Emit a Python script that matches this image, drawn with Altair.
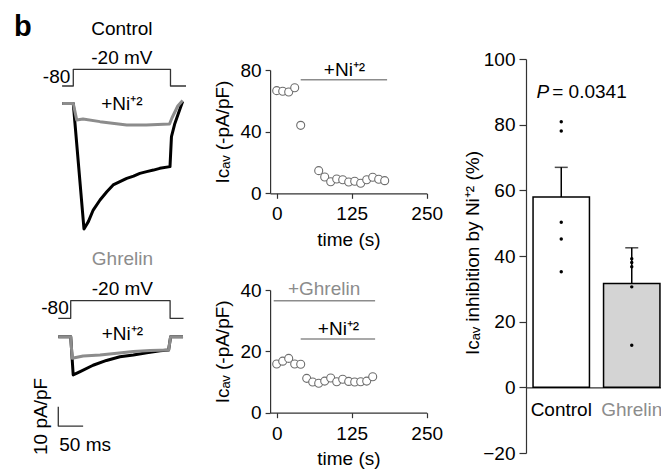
import altair as alt
import pandas as pd

FONT = "Liberation Sans"
AX = "#333333"
GRAY = "#8c8c8c"
FS = 19
W, H = 653, 463

# ---------------- data ----------------
# voltage protocol (ms, mV)
volt_t_ctrl = [-23, 0, 0, 200, 200, 232]
volt_t_ghr = [-25, 0, 0, 200, 200, 227]
volt_v = [-80, -80, -20, -20, -80, -80]

# Control cell: current traces (ms, pA/pF)
ctrl_t = [-23, 0, 22, 31, 41, 55, 69, 82, 96, 110, 124, 137, 151, 165, 178, 199, 202, 209, 220, 225]
ctrl_i = [0, 0, -65.0, -61.2, -55.2, -50.0, -45.7, -42.2, -40.5, -38.8, -37.6, -36.2, -35.3, -34.5,
          -33.6, -32.7, -17.2, -10.3, -2.5, 1.0]
ctrl_ni_t = [-23, 0, 7, 20, 55, 110, 150, 198, 203, 215, 225]
ctrl_ni_i = [0, 0, -8.5, -8.0, -9.4, -11.1, -11.1, -10.6, -7.5, -1.3, 1.5]

# Ghrelin cell: current traces (ms, pA/pF)
ghr_t = [-25, 0, 5, 19, 45, 72, 99, 126, 153, 180, 197, 201, 226]
ghr_i = [0, 0, -19.8, -18.1, -14.8, -12.3, -10.4, -9.5, -8.3, -7.3, -6.9, 0, 0]
ghr_ni_t = [-25, 0, 3, 25, 59, 93, 126, 160, 197, 201, 226]
ghr_ni_i = [0, 0, -11.2, -10.0, -9.5, -8.6, -7.7, -7.2, -6.9, 0, 0]

# scale bar: 50 ms x 10 pA/pF
sb_t = [-25, -25, 25]
sb_i = [-36.3, -46.3, -46.3]

# time courses (s, -pA/pF)
tc1_t = [0, 10, 20, 30, 40, 70, 80, 90, 100, 110, 120, 130, 140, 150, 160, 170, 180]
tc1_v = [66.6, 66.2, 65.7, 68.5, 44.1, 14.7, 10.6, 7.5, 9.3, 8.8, 7.3, 7.8, 6.5, 8.8, 10.4, 9.1, 8.2]
tc1_ni_t = [40, 184]
tc1_ni_v = [73.7, 73.7]

tc2_t = [0, 10, 20, 30, 40, 50, 60, 70, 80, 90, 100, 110, 120, 130, 140, 150, 160]
tc2_v = [15.9, 16.8, 17.7, 15.9, 15.8, 11.2, 10.0, 9.6, 10.3, 11.3, 10.1, 10.9, 10.2, 10.0, 10.1, 10.3, 11.7]
tc2_ghr_t = [-5, 164]
tc2_ghr_v = [36.5, 36.5]
tc2_ni_t = [40, 164]
tc2_ni_v = [24.0, 24.0]

# bar chart (% inhibition by Ni+2)
groups = ["Control", "Ghrelin"]
means = [58.0, 31.6]
sem_top = [67.0, 42.5]
dots_group = ["Control"] * 5 + ["Ghrelin"] * 5
dots_val = [80.9, 78.1, 50.3, 45.2, 35.2, 39.2, 38.0, 36.7, 30.6, 12.8]

NOAXIS = "none"


# ---------------- helpers ----------------
def sc(domain, rng):
    return alt.Scale(domain=domain, range=rng, nice=False, zero=False)


def df_xy(t, v):
    return pd.DataFrame({"t": t, "v": v, "i": list(range(len(t)))})


def enc(xs, ys, xa=NOAXIS, ya=NOAXIS):
    xk = {} if xa is Ellipsis else {"axis": (None if xa is NOAXIS else xa)}
    yk = {} if ya is Ellipsis else {"axis": (None if ya is NOAXIS else ya)}
    return dict(x=alt.X("t:Q", scale=xs, **xk), y=alt.Y("v:Q", scale=ys, **yk))


def line(t, v, xs, ys, color, width, xa=NOAXIS, ya=NOAXIS):
    return alt.Chart(df_xy(t, v)).mark_line(color=color, strokeWidth=width, strokeJoin="round").encode(
        order=alt.Order("i:Q"), **enc(xs, ys, xa, ya)
    )


def txt(t, v, label, xs, ys, xa=NOAXIS, ya=NOAXIS, **kw):
    style = dict(font=FONT, fontSize=FS, color="black")
    style.update(kw)
    d = pd.DataFrame({"t": [t], "v": [v], "label": [label]})
    return alt.Chart(d).mark_text(**style).encode(text="label:N", **enc(xs, ys, xa, ya))


# ---------------- control traces ----------------
cx = sc([-30, 235], [50.7, 179.5])
cv = sc([-80, -20], [78.0, 61.3])
ci = sc([-70, 10], [230.6, 76.2])

ctrl_volt = alt.layer(
    line(volt_t_ctrl, volt_v, cx, cv, AX, 1.3),
    txt(0, -80, "-80", cx, cv, align="right", baseline="alphabetic", dx=-3, dy=-3),
    txt(100, -20, "-20 mV", cx, cv, align="center", baseline="alphabetic", dy=-5),
    txt(100, -20, "Control", cx, cv, align="center", baseline="alphabetic", dy=-34),
)
ctrl_trace = alt.layer(
    line(ctrl_t, ctrl_i, cx, ci, "black", 3),
    line(ctrl_ni_t, ctrl_ni_i, cx, ci, GRAY, 3),
    txt(100, 0, "+Ni⁺²", cx, ci, align="center", baseline="alphabetic", dy=6.5),
)

# ---------------- ghrelin traces ----------------
gx = sc([-30, 235], [47.8, 179.5])
gv = sc([-80, -20], [310.3, 292.7])
gi = sc([-50, 10], [425.2, 309.4])

ghr_volt = alt.layer(
    line(volt_t_ghr, volt_v, gx, gv, AX, 1.3),
    txt(0, -80, "-80", gx, gv, align="right", baseline="alphabetic", dx=-2, dy=-4),
    txt(100, -20, "-20 mV", gx, gv, align="center", baseline="alphabetic", dx=2, dy=-5.5),
    txt(100, -20, "Ghrelin", gx, gv, align="center", baseline="alphabetic", dx=2, dy=-35.5, color=GRAY),
)
ghr_trace = alt.layer(
    line(ghr_t, ghr_i, gx, gi, "black", 3),
    line(ghr_ni_t, ghr_ni_i, gx, gi, GRAY, 3),
    line(sb_t, sb_i, gx, gi, AX, 1.3),
    txt(100, 0, "+Ni⁺²", gx, gi, align="center", baseline="alphabetic", dx=2, dy=3.5),
    txt(-25, -41.3, "10 pA/pF", gx, gi, align="center", baseline="alphabetic", angle=270, dy=-11.5),
    txt(-23, -46.3, "50 ms", gx, gi, align="left", baseline="alphabetic", dy=25),
)


# ---------------- time courses ----------------
def axis_common(**kw):
    base = dict(
        grid=False, domainColor=AX, tickColor=AX, domainWidth=1.2, tickWidth=1.2,
        labelFont=FONT, labelFontSize=FS, labelColor="black",
        titleFont=FONT, titleFontSize=FS, titleColor="black", titleFontWeight="normal",
    )
    base.update(kw)
    return alt.Axis(**base)


tcx = sc([-11, 250], [262.1, 418.7])


def tc_axes(yvals, y_axis_y, title_y):
    xa = axis_common(
        orient="bottom", offset=y_axis_y - H, values=[0, 125, 250], tickSize=5,
        labelFlush=False, labelBaseline="alphabetic", labelPadding=21.5,
        title="time (s)", titleBaseline="alphabetic", titleY=52)
    ya = axis_common(
        orient="left", offset=-262.1, values=yvals, tickSize=5, labelPadding=4,
        title="Iᴄₐᵥ (-pA/pF)", titleX=-38, titleY=title_y)
    return xa, ya


def pts(t, v, xs, ys, xa, ya):
    return alt.Chart(df_xy(t, v)).mark_circle(
        fill="white", stroke="#6e6e6e", strokeWidth=1.1, size=64, opacity=1
    ).encode(**enc(xs, ys, xa, ya))


D = Ellipsis  # default (merged) axis for secondary layers of an axis-bearing panel

t1y = sc([0, 80], [185.3, 62.0])
a1x, a1y = tc_axes([0, 40, 80], 185.3, 123.5)
tc1 = alt.layer(
    pts(tc1_t, tc1_v, tcx, t1y, a1x, a1y),
    line(tc1_ni_t, tc1_ni_v, tcx, t1y, GRAY, 1.5, D, D),
    txt(113, 76.1, "+Ni⁺²", tcx, t1y, D, D, align="center", baseline="alphabetic"),
)

t2y = sc([0, 40], [404.7, 282.0])
a2x, a2y = tc_axes([0, 20, 40], 404.7, 343.3)
tc2 = alt.layer(
    pts(tc2_t, tc2_v, tcx, t2y, a2x, a2y),
    line(tc2_ghr_t, tc2_ghr_v, tcx, t2y, GRAY, 1.5, D, D),
    line(tc2_ni_t, tc2_ni_v, tcx, t2y, GRAY, 1.5, D, D),
    txt(79, 38.4, "+Ghrelin", tcx, t2y, D, D, align="center", baseline="alphabetic", color=GRAY),
    txt(103, 25.3, "+Ni⁺²", tcx, t2y, D, D, align="center", baseline="alphabetic"),
)

# ---------------- bar chart ----------------
bx = alt.Scale(domain=groups, range=[518, 659], paddingInner=0.2, paddingOuter=0.1)
by = sc([-20, 100], [445.0, 51.0])
bar_df = pd.DataFrame({"group": groups, "mean": means, "top": sem_top})
dot_df = pd.DataFrame({"group": dots_group, "val": dots_val})

x_bar = alt.X("group:N", scale=bx, axis=axis_common(
    orient="bottom", offset=379.3 - H, ticks=False, labelAngle=0, labelPadding=28,
    labelBaseline="alphabetic", title=None,
    labelColor={"condition": {"test": "datum.value == 'Ghrelin'", "value": GRAY}, "value": "black"}))
y_bar = alt.Y("mean:Q", scale=by, axis=axis_common(
    orient="left", offset=-518, values=[-20, 0, 20, 40, 60, 80, 100], tickSize=7, labelPadding=4,
    title="Iᴄₐᵥ inhibition by Ni⁺² (%)", titleX=-44, titleY=244.5))

bars = alt.Chart(bar_df).mark_bar(stroke="black", strokeWidth=1.5).encode(
    x=x_bar, y=y_bar,
    fill=alt.Fill("group:N", scale=alt.Scale(domain=groups, range=["white", "#d4d4d4"]), legend=None),
)
err = alt.Chart(bar_df).mark_rule(color="black", strokeWidth=1.5).encode(
    x=alt.X("group:N", scale=bx), y=alt.Y("mean:Q", scale=by), y2="top:Q")
cap = alt.Chart(bar_df).mark_tick(color="black", thickness=1.5, size=13).encode(
    x=alt.X("group:N", scale=bx), y=alt.Y("top:Q", scale=by))
dots = alt.Chart(dot_df).mark_circle(color="black", size=12, opacity=1).encode(
    x=alt.X("group:N", scale=bx), y=alt.Y("val:Q", scale=by))
p_df = pd.DataFrame({"group": ["Control"], "mean": [88.0]})
p1 = alt.Chart(p_df).mark_text(text="P", font=FONT, fontSize=FS, fontStyle="italic", align="right",
                               baseline="alphabetic", dx=-12, color="black").encode(
    x=alt.X("group:N", scale=bx), y=alt.Y("mean:Q", scale=by))
p2 = alt.Chart(p_df).mark_text(text="= 0.0341", font=FONT, fontSize=FS, align="left",
                               baseline="alphabetic", dx=-9, color="black").encode(
    x=alt.X("group:N", scale=bx), y=alt.Y("mean:Q", scale=by))
bar_panel = alt.layer(bars, err, cap, dots, p1, p2)

# panel letter
letter = alt.Chart(pd.DataFrame({"label": ["b"]})).mark_text(
    font=FONT, fontSize=29, fontWeight="bold", align="left", baseline="alphabetic", color="black"
).encode(x=alt.value(6), y=alt.value(28), text="label:N")

chart = alt.layer(
    ctrl_volt, ctrl_trace, ghr_volt, ghr_trace, tc1, tc2, bar_panel, letter
).resolve_scale(x="independent", y="independent").properties(
    width=W, height=H, autosize=alt.AutoSizeParams(type="none"), padding=0
).configure_view(stroke=None).configure_axis(titleFontWeight="normal", labelFontWeight="normal")

chart.save("out.html", embed_options={"renderer": "svg", "actions": False})
